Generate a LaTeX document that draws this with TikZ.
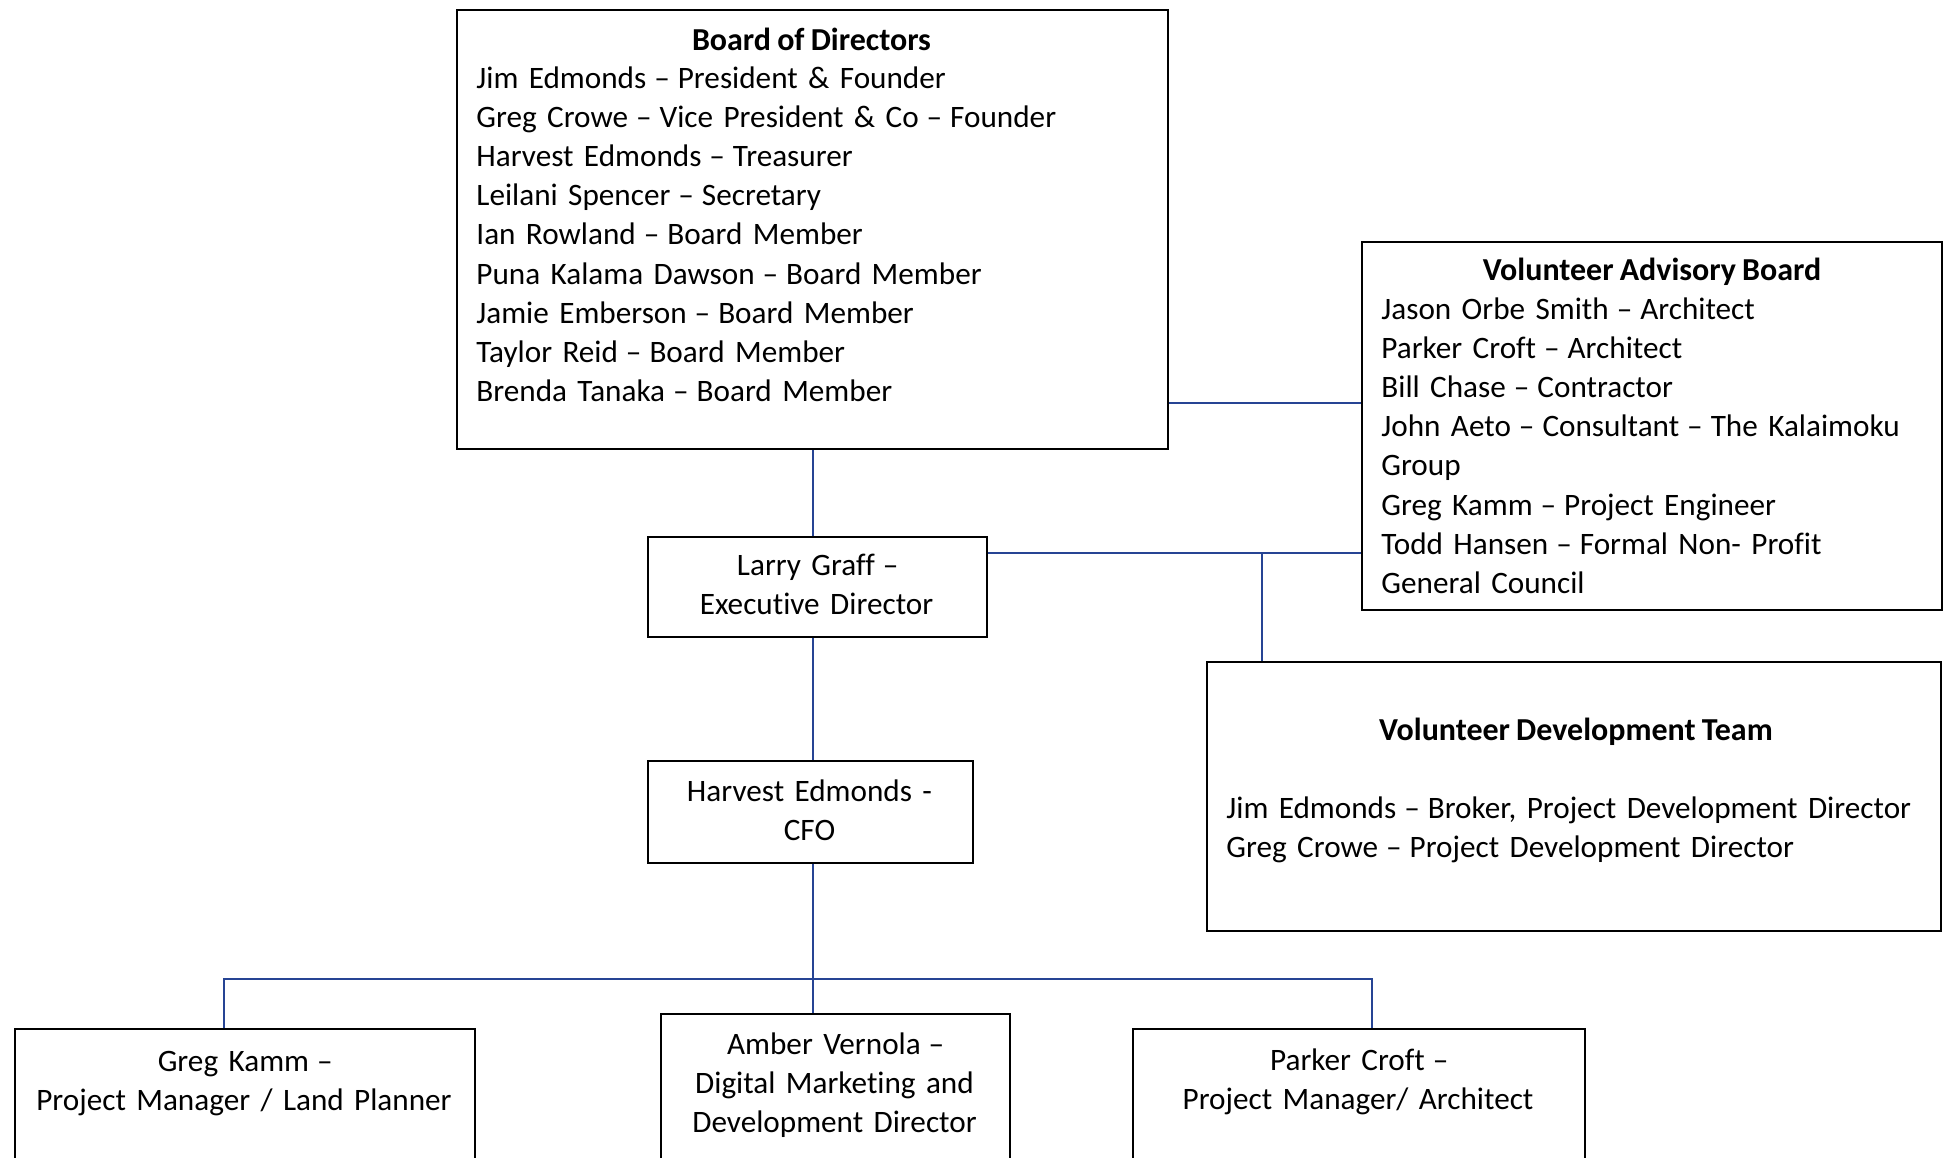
\documentclass[tikz,border=0pt]{standalone}
\usepackage{fontspec}
\setmainfont{Carlito}[WordSpace=0.85, Ligatures=NoCommon]
\definecolor{linkblue}{RGB}{38,68,148}
\newcommand{\rdash}{\kern-1.2pt--\kern-1.2pt}
\begin{document}
\begin{tikzpicture}[x=0.5pt, y=-0.5pt,
  box/.style={draw=black, line width=1.1pt, inner sep=0pt, anchor=north west},
  head/.style={font=\fontsize{16}{19.6}\selectfont\bfseries, inner sep=0pt, anchor=base},
  body/.style={font=\fontsize{15.6}{19.6}\selectfont, align=left, inner sep=0pt, anchor=base west},
  role/.style={font=\fontsize{15.6}{19.6}\selectfont, align=center, inner sep=0pt, anchor=base},
  link/.style={draw=linkblue, line width=1.1pt}]
\clip (0,0) rectangle (1944,1157);
\node[box, minimum width=355.5pt, minimum height=219.5pt] (board) at (456,9) {};
\node[box, minimum width=290pt, minimum height=184pt] (vab) at (1361,241) {};
\node[box, minimum width=169.5pt, minimum height=50pt] (larry) at (647,536) {};
\node[box, minimum width=162.5pt, minimum height=51pt] (cfo) at (647,760) {};
\node[box, minimum width=367pt, minimum height=134.5pt] (vdt) at (1206,661) {};
\node[box, minimum width=230pt, minimum height=120pt] (greg) at (14,1028) {};
\node[box, minimum width=174.5pt, minimum height=120pt] (amber) at (660,1013) {};
\node[box, minimum width=226pt, minimum height=120pt] (parker) at (1132,1028) {};
\node[head] (boardhead) at (811.5,50) {Board of Directors};
\node[body, text width=340pt] (boardlist) at (476,88) {Jim Edmonds \rdash{} President \& Founder\\
  Greg Crowe \rdash{} Vice President \& Co \rdash{} Founder\\
  Harvest Edmonds \rdash{} Treasurer\\
  Leilani Spencer \rdash{} Secretary\\
  Ian Rowland \rdash{} Board Member\\
  Puna Kalama Dawson \rdash{} Board Member\\
  Jamie Emberson \rdash{} Board Member\\
  Taylor Reid \rdash{} Board Member\\
  Brenda Tanaka \rdash{} Board Member};
\node[head] (vabhead) at (1652,280) {Volunteer Advisory Board};
\node[body, text width=285pt] (vablist) at (1381,319) {Jason Orbe Smith \rdash{} Architect\\
  Parker Croft \rdash{} Architect\\
  Bill Chase \rdash{} Contractor\\
  John Aeto \rdash{} Consultant \rdash{} The Kalaimoku\\
  Group\\
  Greg Kamm \rdash{} Project Engineer\\
  Todd Hansen \rdash{} Formal Non- Profit\\
  General Council};
\node[role, text width=165pt] (larrytext) at (816.5,575) {Larry Graff \rdash\\Executive Director};
\node[role, text width=160pt] (cfotext) at (809.5,801) {Harvest Edmonds -\\CFO};
\node[head] (vdthead) at (1576,740) {Volunteer Development Team};
\node[body, text width=360pt] (vdtlist) at (1226,818) {Jim Edmonds \rdash{} Broker, Project Development Director\\
  Greg Crowe \rdash{} Project Development Director};
\node[role, text width=225pt] (gregtext) at (244,1071) {Greg Kamm \rdash\\Project Manager / Land Planner};
\node[role, text width=170pt] (ambertext) at (834.5,1054) {Amber Vernola \rdash\\Digital Marketing and\\Development Director};
\node[role, text width=220pt] (parkertext) at (1358,1070) {Parker Croft \rdash\\Project Manager/ Architect};
\coordinate (vabjoin) at (1167,403);
\coordinate (edjoin) at (1262,553);
\coordinate (busL) at (224,979);
\coordinate (busR) at (1372,979);
\draw[link] (board.east |- vabjoin) -- (vab.west |- vabjoin);
\draw[link] (larry.east |- edjoin) -- (vab.west |- edjoin);
\draw[link] (edjoin) -- (edjoin |- vdt.north);
\draw[link] (board.south) -- (board.south |- larry.north);
\draw[link] (larry.south -| board.south) -- (cfo.north -| board.south);
\draw[link] (cfo.south -| board.south) -- (amber.north -| board.south);
\draw[link] (greg.north -| busL) -- (busL) -- (busR) -- (parker.north -| busR);
\end{tikzpicture}
\end{document}
